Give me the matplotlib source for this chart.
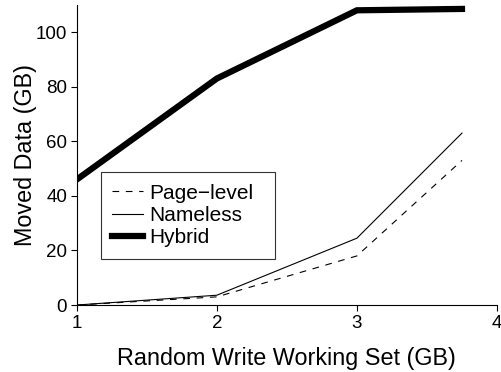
import matplotlib
matplotlib.use("Agg")
import matplotlib.pyplot as plt

plt.rcParams['font.family'] = ['Liberation Sans', 'DejaVu Sans']

working_set = [1, 2, 3, 3.75]
page_level = [0, 3.0, 18, 53]
nameless = [0, 3.6, 24.5, 63]
hybrid = [46, 83, 108, 108.5]

fig = plt.figure(figsize=(5.02, 3.72), dpi=100)
ax = fig.add_axes([0.153, 0.18, 0.837, 0.807])

ax.plot(working_set, page_level, color='black', lw=0.8, ls=(0, (6, 6)), label='Page\u2212level')
ax.plot(working_set, nameless, color='black', lw=0.8, label='Nameless')
ax.plot(working_set, hybrid, color='black', lw=4.5, solid_joinstyle='miter', label='Hybrid')

ax.set_xlim(1, 4)
ax.set_ylim(0, 110)
ax.set_xticks([1, 2, 3, 4])
ax.set_yticks([0, 20, 40, 60, 80, 100])
ax.spines['top'].set_visible(False)
ax.spines['right'].set_visible(False)
ax.tick_params(labelsize=13.5, direction='out', length=4, pad=3)
ax.set_xlabel('Random Write Working Set (GB)', fontsize=16.8)
ax.set_ylabel('Moved Data (GB)', fontsize=16.8)
ax.xaxis.set_label_coords(0.5, -0.14)
ax.yaxis.set_label_coords(-0.095, 0.5)

leg = ax.legend(loc='upper left', bbox_to_anchor=(0.057, 0.443, 0.414, 0.0),
                mode='expand', fontsize=15,
                frameon=True, fancybox=False, handlelength=1.49, handletextpad=0.29,
                labelspacing=0.16, borderpad=0.55, borderaxespad=0)
leg.get_frame().set_edgecolor('black')
leg.get_frame().set_linewidth(0.8)

fig.savefig('out.png', dpi=100)
